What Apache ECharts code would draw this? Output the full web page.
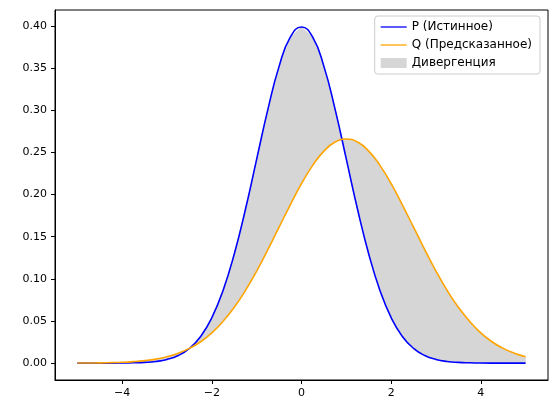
<!DOCTYPE html>
<html><head><meta charset="utf-8">
<script src="https://cdn.jsdelivr.net/npm/echarts@6/dist/echarts.min.js"></script>
<style>html,body{margin:0;padding:0;background:#fff}#c{width:556px;height:413px}</style>
</head><body><div id="c"></div>
<script>
const xs = [-5,-4.75,-4.5,-4.25,-4,-3.75,-3.5,-3.25,-3,-2.75,-2.5,-2.25,-2,-1.75,-1.5,-1.25,-1,-0.75,-0.5,-0.25,0,0.25,0.5,0.75,1,1.25,1.5,1.75,2,2.25,2.5,2.75,3,3.25,3.5,3.75,4,4.25,4.5,4.75,5];
const pVals = [0,0,0,0,0.0001,0.0004,0.0009,0.0020,0.0044,0.0091,0.0175,0.0317,0.0540,0.0863,0.1295,0.1826,0.2420,0.3011,0.3521,0.3867,0.3989,0.3867,0.3521,0.3011,0.2420,0.1826,0.1295,0.0863,0.0540,0.0317,0.0175,0.0091,0.0044,0.0020,0.0009,0.0004,0.0001,0,0,0,0];
const qVals = [0.0001,0.0002,0.0003,0.0006,0.0010,0.0018,0.0030,0.0048,0.0076,0.0117,0.0175,0.0254,0.0360,0.0496,0.0663,0.0863,0.1093,0.1347,0.1613,0.1879,0.2130,0.2347,0.2516,0.2623,0.2660,0.2623,0.2516,0.2347,0.2130,0.1879,0.1613,0.1347,0.1093,0.0863,0.0663,0.0496,0.0360,0.0254,0.0175,0.0117,0.0076];
const xTicks = [-4,-2,0,2,4];
const yTicks = [0,0.05,0.1,0.15,0.2,0.25,0.3,0.35,0.4];
const font = {fontFamily:'DejaVu Sans', fontSize:11, color:'#000'};
const chart = echarts.init(document.getElementById('c'));
chart.setOption({
  animation:false,
  grid:{left:55,right:8,top:10,bottom:33,show:true,borderColor:'#000',borderWidth:1,backgroundColor:'transparent'},
  legend:{right:16,top:16,orient:'vertical',itemGap:6,itemWidth:26,itemHeight:10,
    borderColor:'#ccc',borderWidth:1,borderRadius:3,padding:[5,8,5,6],backgroundColor:'#fff',
    textStyle:{fontFamily:'DejaVu Sans',fontSize:12,color:'#000'},
    data:[{name:'P (Истинное)',icon:'path://M0,5 L30,5 L30,6.5 L0,6.5 Z'},
          {name:'Q (Предсказанное)',icon:'path://M0,5 L30,5 L30,6.5 L0,6.5 Z'},
          {name:'Дивергенция',icon:'rect'}]},
  xAxis:{type:'value',min:-5.5,max:5.5,splitLine:{show:false},
    axisLine:{onZero:false,lineStyle:{color:'#000'}},
    axisTick:{customValues:xTicks,length:4,lineStyle:{color:'#000'}},
    axisLabel:{customValues:xTicks,formatter:v=>v<0?'−'+Math.abs(v):String(v),...font}},
  yAxis:{type:'value',min:-0.02,max:0.419,splitLine:{show:false},
    axisLine:{show:true,onZero:false,lineStyle:{color:'#000'}},
    axisTick:{show:true,customValues:yTicks,length:4,lineStyle:{color:'#000'}},
    axisLabel:{customValues:yTicks,formatter:v=>v.toFixed(2),...font}},
  series:[
    {name:'Дивергенция',type:'custom',itemStyle:{color:'#d6d6d6'},
      data:xs.map((x,i)=>[x,pVals[i],qVals[i]]),
      renderItem:function(params,api){
        if(params.dataIndex!==0) return null;
        const pts=[];
        for(let i=0;i<xs.length;i++) pts.push(api.coord([xs[i],pVals[i]]));
        for(let i=xs.length-1;i>=0;i--) pts.push(api.coord([xs[i],qVals[i]]));
        return {type:'polygon',shape:{points:pts},style:{fill:'#d6d6d6',stroke:'#d6d6d6',lineWidth:0.5}};
      }},
    {name:'P (Истинное)',type:'line',data:xs.map((x,i)=>[x,pVals[i]]),symbol:'none',smooth:true,lineStyle:{color:'#0000ff',width:1.6},itemStyle:{color:'#0000ff'}},
    {name:'Q (Предсказанное)',type:'line',data:xs.map((x,i)=>[x,qVals[i]]),symbol:'none',smooth:true,lineStyle:{color:'#ffa500',width:1.6},itemStyle:{color:'#ffa500'}}
  ]
});
</script></body></html>
